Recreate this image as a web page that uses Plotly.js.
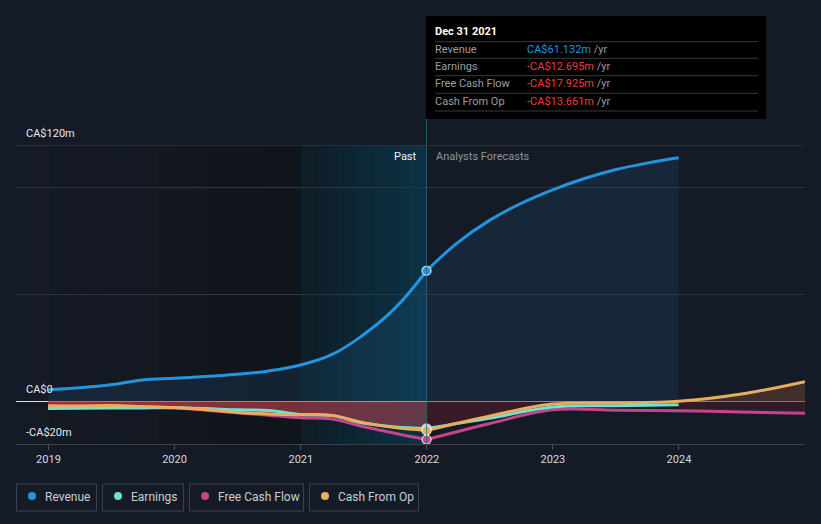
<!DOCTYPE html>
<html>
<head>
<meta charset="utf-8">
<script src="https://cdn.plot.ly/plotly-3.0.1.min.js"></script>
<style>
  html, body { margin: 0; padding: 0; background: #151b26; }
  #chart { width: 821px; height: 524px; }
</style>
</head>
<body>
<div id="chart"></div>
<script>
// ---------- data (CA$ millions) ----------
const pastDates = ['2018-12-31','2019-03-31','2019-06-30','2019-09-30','2019-12-31','2020-03-31','2020-06-30','2020-09-30','2020-12-31','2021-03-31','2021-06-30','2021-09-30','2021-12-31'];
const revenuePast  = [5.4, 6.3, 7.7, 10.0, 10.8, 11.6, 12.7, 14.2, 17.0, 21.8, 31.0, 43.5, 61.132];
const earningsPast = [-3.4, -3.3, -3.2, -3.1, -3.0, -3.4, -4.0, -4.3, -6.2, -6.6, -10.2, -12.0, -12.695];
const fcfPast      = [-2.4, -2.5, -2.4, -2.7, -3.0, -4.2, -5.4, -6.5, -7.7, -8.3, -11.8, -15.0, -17.925];
const cfoPast      = [-2.1, -2.2, -2.0, -2.4, -2.9, -3.9, -5.2, -5.9, -6.3, -6.7, -10.0, -12.3, -13.661];

const revDatesFc   = ['2021-12-31','2022-03-31','2022-06-30','2022-09-30','2022-12-31','2023-03-31','2023-06-30','2023-09-30','2023-12-31'];
const revenueFc    = [61.132, 74.3, 84.6, 92.6, 99.0, 104.2, 108.4, 111.5, 114.0];
const fcDates      = ['2021-12-31','2022-06-30','2022-12-31','2023-06-30','2023-12-31'];
const earningsFc   = [-12.695, -8.0, -2.7, -2.1, -1.6];
const longDates    = ['2021-12-31','2022-06-30','2022-12-31','2023-06-30','2023-12-31','2024-06-30','2024-12-31'];
const fcfFc        = [-17.925, -10.5, -4.0, -4.2, -4.4, -5.0, -5.6];
const cfoFc        = [-13.661, -7.0, -1.3, -0.8, 0.0, 3.4, 9.2];

const yearTicks    = ['2019-01-01','2020-01-01','2021-01-01','2022-01-01','2023-01-01','2024-01-01'];
const yearLabels   = ['2019','2020','2021','2022','2023','2024'];
const yTickVals    = [-20, 0, 50, 100, 120];
const yLabelVals   = [120, 0, -20];
const yLabelText   = ['CA$120m', 'CA$0', '-CA$20m'];

const seriesNames  = ['Revenue', 'Earnings', 'Free Cash Flow', 'Cash From Op'];
const seriesColors = ['#2394df', '#6fe3d3', '#c6448a', '#e8ad60'];
const tipDate      = 'Dec 31 2021';
const tipValues    = ['CA$61.132m', '-CA$12.695m', '-CA$17.925m', '-CA$13.661m'];
const tipColors    = ['#2394df', '#f03c3c', '#f03c3c', '#f03c3c'];

const pastStart = '2021-01-01';
const nowDate   = '2021-12-31';
const xRange    = ['2018-09-29', '2024-12-31'];

// ---------- layout helpers ----------
const W = 821, H = 524, ML = 16, MR = 16, MT = 145, MB = 80;
const PW = W - ML - MR, PH = H - MT - MB;
const px2x = p => (p - ML) / PW;
const px2y = p => (H - MB - p) / PH;

const tail = (arr) => arr.slice(4);   // forecast part from 2023-12-31 on

const traces = [];
// revenue
traces.push({x: pastDates, y: revenuePast, type: 'scatter', mode: 'lines', line: {color: seriesColors[0], width: 3, shape: 'spline', smoothing: 1.2},
  fill: 'tozeroy', fillcolor: 'rgba(35,110,170,0.16)', hoverinfo: 'skip'});
traces.push({x: revDatesFc, y: revenueFc, type: 'scatter', mode: 'lines', line: {color: seriesColors[0], width: 3, shape: 'spline', smoothing: 1.0},
  fill: 'tozeroy', fillcolor: 'rgba(30,80,130,0.22)', hoverinfo: 'skip'});
// past red fill on cash from op
traces.push({x: pastDates, y: cfoPast, type: 'scatter', mode: 'lines', line: {width: 0, shape: 'spline'},
  fill: 'tozeroy', fillgradient: {type: 'horizontal', colorscale: [[0, 'rgba(190,48,48,0.9)'], [1, 'rgba(150,62,78,0.62)']]}, hoverinfo: 'skip'});
// forecast fills
traces.push({x: longDates, y: cfoFc, type: 'scatter', mode: 'lines', line: {width: 0, shape: 'spline'},
  fill: 'tozeroy', fillcolor: 'rgba(80,28,38,0.6)', hoverinfo: 'skip'});
traces.push({x: tail(longDates), y: tail(fcfFc), type: 'scatter', mode: 'lines', line: {width: 0, shape: 'spline'},
  fill: 'tozeroy', fillcolor: 'rgba(75,28,40,0.5)', hoverinfo: 'skip'});
traces.push({x: tail(longDates), y: tail(cfoFc), type: 'scatter', mode: 'lines', line: {width: 0, shape: 'spline'},
  fill: 'tozeroy', fillcolor: 'rgba(70,62,50,0.55)', hoverinfo: 'skip'});
// lines: FCF, Earnings, CFO
const lineSets = [
  [fcfPast, pastDates, fcfFc, longDates, 2],
  [earningsPast, pastDates, earningsFc, fcDates, 1],
  [cfoPast, pastDates, cfoFc, longDates, 3]
];
lineSets.forEach(([yp, xp, yf, xf, ci]) => {
  traces.push({x: xp, y: yp, type: 'scatter', mode: 'lines', line: {color: seriesColors[ci], width: 3, shape: 'spline', smoothing: 1.0}, hoverinfo: 'skip'});
  traces.push({x: xf, y: yf, type: 'scatter', mode: 'lines', line: {color: seriesColors[ci], width: 3, shape: 'spline', smoothing: 1.0}, hoverinfo: 'skip'});
});
// markers at current date
const lastIdx = pastDates.length - 1;
[[revenuePast, 0], [fcfPast, 2], [earningsPast, 1], [cfoPast, 3]].forEach(([arr, ci]) => {
  traces.push({x: [pastDates[lastIdx]], y: [arr[lastIdx]], type: 'scatter', mode: 'markers',
    marker: {color: seriesColors[ci], size: 9, line: {color: 'rgba(235,240,245,0.85)', width: 1.3}}, hoverinfo: 'skip'});
});

// ---------- shapes ----------
const shapes = [];
function hexLerp(a, b, t) {
  const pa = [1,3,5].map(i => parseInt(a.substr(i,2),16));
  const pb = [1,3,5].map(i => parseInt(b.substr(i,2),16));
  return 'rgb(' + pa.map((v,i) => Math.round(v + (pb[i]-v)*t)).join(',') + ')';
}
function bands(x0, x1, c0, c1, n) {
  const t0 = new Date(x0).getTime(), t1 = new Date(x1).getTime();
  for (let i = 0; i < n; i++) {
    const a = t0 + (t1 - t0) * i / n, b = t0 + (t1 - t0) * (i + 1) / n;
    shapes.push({type: 'rect', xref: 'x', yref: 'paper', x0: new Date(a).toISOString().slice(0,10), x1: new Date(b + 86400000).toISOString().slice(0,10),
      y0: 0, y1: 1, fillcolor: hexLerp(c0, c1, (i + 0.5) / n), line: {width: 0}, layer: 'below'});
  }
}
bands(xRange[0], pastStart, '#151b26', '#10141b', 16);
bands(pastStart, nowDate, '#0e1c26', '#0b3345', 14);

// top gridline (at range edge)
shapes.push({type: 'line', xref: 'paper', yref: 'y', x0: 0, x1: 1, y0: yTickVals[yTickVals.length - 1], y1: yTickVals[yTickVals.length - 1],
  line: {color: '#3a4049', width: 1}, layer: 'above'});

// vertical "now" line
shapes.push({type: 'line', xref: 'x', yref: 'paper', x0: nowDate, x1: nowDate, y0: 0, y1: px2y(119), line: {color: 'rgba(40,105,130,0.75)', width: 1}, layer: 'above'});

// tooltip box
shapes.push({type: 'rect', xref: 'paper', yref: 'paper', x0: px2x(426), x1: px2x(766), y0: px2y(119), y1: px2y(16), fillcolor: '#000000', line: {width: 0}, layer: 'above'});
[41.7, 58.3, 75.7, 93.3, 111].forEach(py => {
  shapes.push({type: 'line', xref: 'paper', yref: 'paper', x0: px2x(435), x1: px2x(758), y0: px2y(py), y1: px2y(py), line: {color: '#3a3a3a', width: 1}, layer: 'above'});
});

// legend boxes
const legBoxes = [[16, 97], [102, 184], [189, 304], [309, 419]];
legBoxes.forEach(([a, b], i) => {
  shapes.push({type: 'rect', xref: 'paper', yref: 'paper', x0: px2x(a + 0.5), x1: px2x(b - 0.5), y0: px2y(511), y1: px2y(484),
    fillcolor: 'rgba(0,0,0,0)', line: {color: '#3c424c', width: 1}});
  const cx = a + 16;
  shapes.push({type: 'circle', xref: 'paper', yref: 'paper', x0: px2x(cx - 4), x1: px2x(cx + 4), y0: px2y(500), y1: px2y(492),
    fillcolor: seriesColors[i], line: {width: 0}});
});

// ---------- annotations ----------
const annotations = [];
yLabelVals.forEach((v, i) => {
  annotations.push({xref: 'paper', yref: 'y', x: px2x(24), y: v, yshift: 12, xanchor: 'left', yanchor: 'middle', showarrow: false,
    text: yLabelText[i], font: {family: 'Roboto, sans-serif', size: 11, color: '#e6e8eb'}});
});
annotations.push({xref: 'x', yref: 'paper', x: nowDate, y: px2y(156), xshift: -8, xanchor: 'right', yanchor: 'middle', showarrow: false,
  text: 'Past', font: {family: 'Roboto, sans-serif', size: 11, color: '#f0f2f4'}});
annotations.push({xref: 'x', yref: 'paper', x: nowDate, y: px2y(156), xshift: 7, xanchor: 'left', yanchor: 'middle', showarrow: false,
  text: 'Analysts Forecasts', font: {family: 'Roboto, sans-serif', size: 11, color: '#8f959d'}});
// tooltip text
annotations.push({xref: 'paper', yref: 'paper', x: px2x(433), y: px2y(31), xanchor: 'left', yanchor: 'middle', showarrow: false,
  text: '<b>' + tipDate + '</b>', font: {family: 'Roboto, sans-serif', size: 11, color: '#ffffff'}});
[49.5, 66.5, 84, 101.5].forEach((py, i) => {
  annotations.push({xref: 'paper', yref: 'paper', x: px2x(433), y: px2y(py), xanchor: 'left', yanchor: 'middle', showarrow: false,
    text: seriesNames[i], font: {family: 'Roboto, sans-serif', size: 11, color: '#9a9da2'}});
  annotations.push({xref: 'paper', yref: 'paper', x: px2x(525), y: px2y(py), xanchor: 'left', yanchor: 'middle', showarrow: false,
    text: '<span style="color:' + tipColors[i] + '">' + tipValues[i] + '</span> /yr', font: {family: 'Roboto, sans-serif', size: 11, color: '#9a9da2'}});
});
// legend labels
legBoxes.forEach(([a, b], i) => {
  annotations.push({xref: 'paper', yref: 'paper', x: px2x(a + 27), y: px2y(496.5), xanchor: 'left', yanchor: 'middle', showarrow: false,
    text: seriesNames[i], font: {family: 'Roboto, sans-serif', size: 12, color: '#c9cdd3'}});
});

const layout = {
  width: W, height: H,
  margin: {l: ML, r: MR, t: MT, b: MB, pad: 0},
  paper_bgcolor: '#151b26', plot_bgcolor: '#151b26',
  showlegend: false,
  xaxis: {type: 'date', range: xRange, tickvals: yearTicks, ticktext: yearLabels, showgrid: false, zeroline: false,
    ticks: 'outside', ticklen: 5, tickcolor: '#4a505a', showline: true, linecolor: '#3c424c', linewidth: 1,
    tickfont: {family: 'Roboto, sans-serif', size: 11, color: '#d6d9de'}, fixedrange: true},
  yaxis: {range: [-20, 120], tickvals: yTickVals, showticklabels: false, showgrid: true, gridcolor: '#30363f', gridwidth: 1,
    zeroline: true, zerolinecolor: '#dcdcdc', zerolinewidth: 1.2, fixedrange: true},
  shapes: shapes,
  annotations: annotations,
  font: {family: 'Roboto, sans-serif'}
};

Plotly.newPlot('chart', traces, layout, {displayModeBar: false, staticPlot: true});
</script>
</body>
</html>
